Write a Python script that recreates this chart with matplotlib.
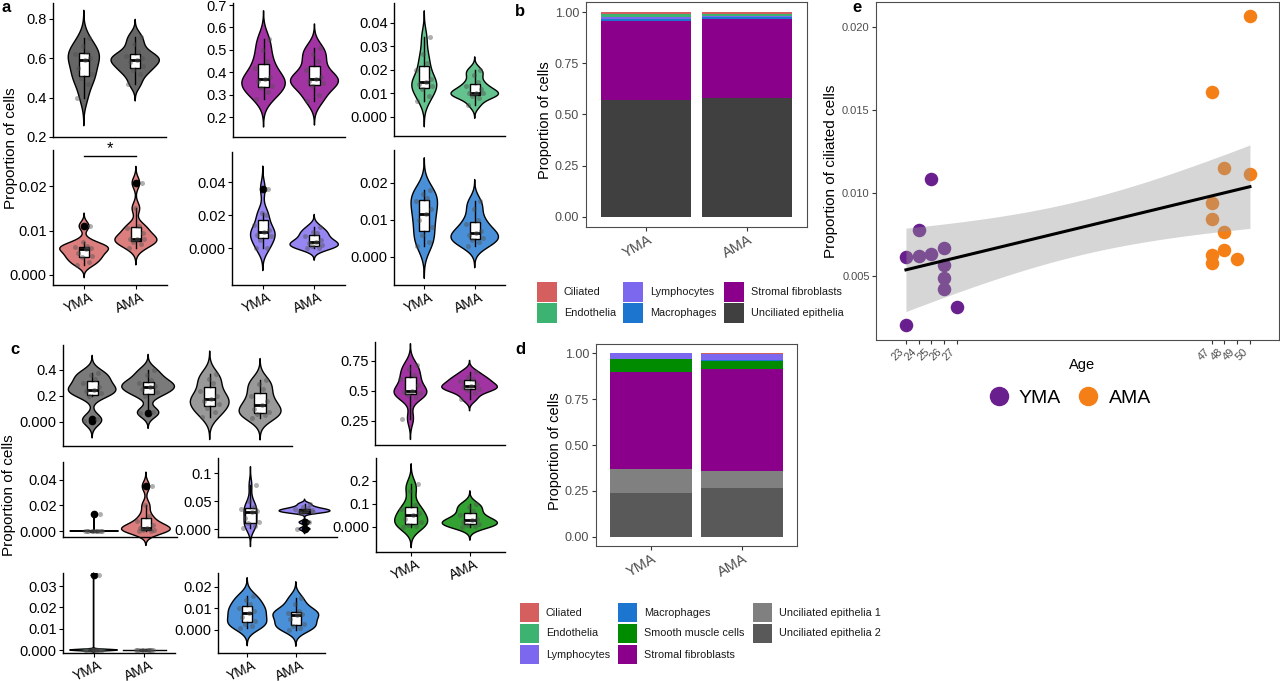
import matplotlib
matplotlib.use('Agg')
import matplotlib.pyplot as plt
from matplotlib.colors import to_rgba
from matplotlib.patches import Rectangle
from matplotlib.lines import Line2D
from matplotlib.transforms import ScaledTranslation
import numpy as np

plt.rcParams['font.family'] = ['Liberation Sans', 'DejaVu Sans']

W, H = 1280, 681

#=========== data ===========
groups = ['YMA', 'AMA']

# panel e
e_age_yma = [23, 23, 24, 24, 25, 25, 26, 26, 26, 26, 27]
e_cil_yma = [0.00613, 0.00204, 0.00777, 0.00621, 0.01083, 0.00633, 0.00667, 0.00566, 0.00486, 0.00420, 0.00315]
e_age_ama = [47, 47, 47, 47, 47, 48, 48, 48, 49, 50, 50]
e_cil_ama = [0.01608, 0.00942, 0.00844, 0.00627, 0.00576, 0.01149, 0.00763, 0.00657, 0.00603, 0.02064, 0.01113]
e_age_ticks = [23, 24, 25, 26, 27, 47, 48, 49, 50]

# panel a, proportion per sample
a_unc_yma = [0.40, 0.47, 0.50, 0.52, 0.55, 0.59, 0.60, 0.62, 0.63, 0.66, 0.70]
a_unc_ama = [0.47, 0.52, 0.54, 0.56, 0.58, 0.59, 0.60, 0.61, 0.63, 0.67, 0.71]
a_str_yma = [0.28, 0.31, 0.33, 0.34, 0.36, 0.37, 0.38, 0.42, 0.45, 0.50, 0.55]
a_str_ama = [0.27, 0.30, 0.34, 0.35, 0.36, 0.37, 0.38, 0.41, 0.45, 0.48, 0.51]
a_end_yma = [0.007, 0.009, 0.012, 0.013, 0.014, 0.015, 0.016, 0.020, 0.023, 0.027, 0.034]
a_end_ama = [0.005, 0.008, 0.009, 0.010, 0.010, 0.010, 0.012, 0.013, 0.015, 0.018, 0.020]
a_cil_yma = [0.0023, 0.003, 0.004, 0.0042, 0.005, 0.0058, 0.006, 0.0063, 0.0065, 0.0075, 0.011]
a_cil_ama = [0.006, 0.007, 0.0075, 0.008, 0.0081, 0.0082, 0.0095, 0.0105, 0.011, 0.015, 0.0207]
a_lym_yma = [0.000, 0.000, 0.005, 0.007, 0.008, 0.0095, 0.011, 0.014, 0.020, 0.021, 0.036]
a_lym_ama = [0.000, 0.000, 0.001, 0.002, 0.003, 0.0036, 0.005, 0.007, 0.009, 0.010, 0.013]
a_mac_yma = [0.003, 0.004, 0.006, 0.008, 0.010, 0.0115, 0.013, 0.015, 0.016, 0.017, 0.018]
a_mac_ama = [0.003, 0.004, 0.0045, 0.005, 0.006, 0.0064, 0.007, 0.009, 0.010, 0.013, 0.015]

# panel c, proportion per sample
c_ue2_yma = [0.01, 0.02, 0.20, 0.22, 0.24, 0.245, 0.27, 0.30, 0.33, 0.36, 0.38]
c_ue2_ama = [0.07, 0.075, 0.20, 0.23, 0.25, 0.27, 0.28, 0.30, 0.32, 0.36, 0.40]
c_ue1_yma = [0.04, 0.08, 0.11, 0.14, 0.16, 0.175, 0.20, 0.24, 0.30, 0.33, 0.37]
c_ue1_ama = [0.03, 0.05, 0.06, 0.08, 0.10, 0.13, 0.16, 0.20, 0.25, 0.29, 0.32]
c_str_yma = [0.27, 0.45, 0.47, 0.48, 0.49, 0.50, 0.55, 0.60, 0.63, 0.68, 0.72]
c_str_ama = [0.43, 0.48, 0.51, 0.52, 0.53, 0.54, 0.56, 0.58, 0.60, 0.62, 0.66]
c_cil_yma = [0.0, 0.0, 0.0, 0.0, 0.0, 0.0, 0.0, 0.0, 0.0, 0.0, 0.013]
c_cil_ama = [0.000, 0.000, 0.001, 0.001, 0.002, 0.002, 0.005, 0.008, 0.012, 0.020, 0.035]
c_lym_yma = [0.002, 0.005, 0.010, 0.012, 0.020, 0.030, 0.033, 0.036, 0.040, 0.050, 0.078]
c_lym_ama = [0.000, 0.012, 0.029, 0.030, 0.031, 0.033, 0.034, 0.035, 0.037, 0.040, 0.045]
c_smc_yma = [0.000, 0.005, 0.010, 0.020, 0.035, 0.050, 0.060, 0.080, 0.095, 0.155, 0.185]
c_smc_ama = [0.000, 0.005, 0.010, 0.015, 0.020, 0.029, 0.035, 0.050, 0.070, 0.085, 0.100]
c_end_yma = [0.0, 0.0, 0.0, 0.0, 0.0, 0.0, 0.0, 0.0, 0.0, 0.0, 0.035]
c_end_ama = [0.0, 0.0, 0.0, 0.0, 0.0, 0.0, 0.0, 0.0, 0.0, 0.0, 0.0]
c_mac_yma = [0.001, 0.002, 0.003, 0.004, 0.006, 0.0078, 0.009, 0.010, 0.012, 0.014, 0.016]
c_mac_ama = [0.000, 0.001, 0.002, 0.003, 0.005, 0.007, 0.0075, 0.008, 0.009, 0.012, 0.015]

# panel b, mean composition
b_types = ['Ciliated', 'Endothelia', 'Lymphocytes', 'Macrophages', 'Stromal fibroblasts', 'Unciliated epithelia']
b_yma = [0.008, 0.013, 0.011, 0.013, 0.385, 0.570]
b_ama = [0.008, 0.010, 0.006, 0.009, 0.384, 0.583]

# panel d, mean composition
d_types = ['Ciliated', 'Endothelia', 'Lymphocytes', 'Macrophages', 'Smooth muscle cells',
           'Stromal fibroblasts', 'Unciliated epithelia 1', 'Unciliated epithelia 2']
d_yma = [0.000, 0.001, 0.029, 0.003, 0.067, 0.530, 0.131, 0.239]
d_ama = [0.005, 0.002, 0.028, 0.005, 0.047, 0.552, 0.095, 0.266]

#=========== style ===========
cell_colors = {
    'Ciliated': '#D55E5E',
    'Endothelia': '#3CB371',
    'Lymphocytes': '#7B68EE',
    'Macrophages': '#1C75CF',
    'Smooth muscle cells': '#008B00',
    'Stromal fibroblasts': '#8B008B',
    'Unciliated epithelia': '#404040',
    'Unciliated epithelia 1': '#808080',
    'Unciliated epithelia 2': '#595959',
}
group_colors = {'YMA': '#6A1F8E', 'AMA': '#F57F17'}
JITTER = [-0.14, 0.09, -0.05, 0.16, -0.11, 0.03, 0.13, -0.17, 0.06, -0.02, 0.11]
TICK = 10.5

fig = plt.figure(figsize=(W / 100, H / 100), dpi=100)


def px_axes(l, t, r, b):
    return fig.add_axes([l / W, 1 - b / H, (r - l) / W, (b - t) / H])


def shift_xlabels(ax, dx):
    off = ScaledTranslation(dx / 100, 0, fig.dpi_scale_trans)
    for lab in ax.get_xticklabels():
        lab.set_transform(lab.get_transform() + off)


def violin_panel(rect, data, colors, ylim, yticks, ylabels, pos=(1, 2), xlim=(0.4, 2.6), xlabels=None):
    ax = px_axes(*rect)
    dens = []
    for vals in data:
        v = np.asarray(vals, float)
        if np.ptp(v) == 0:
            dens.append(None)
            continue
        q25, q75 = np.percentile(v, [25, 75])
        own = q75 == q25
        if own:
            bw = np.ptp(v) / 100
        else:
            bw = 0.9 * min(v.std(ddof=1), (q75 - q25) / 1.34) * len(v) ** -0.2
        g = np.linspace(v.min() - 3 * bw, v.max() + 3 * bw, 600)
        d = np.exp(-0.5 * ((g[:, None] - v[None, :]) / bw) ** 2).sum(1) / (len(v) * bw * np.sqrt(2 * np.pi))
        dens.append((g, d, own))
    shared = [t[1].max() for t in dens if t is not None and not t[2]]
    dmax = max(shared) if shared else 1
    for vals, p, c, t in zip(data, pos, colors, dens):
        if t is None:
            ax.plot([p - 0.42, p + 0.42], [vals[0], vals[0]], color='black', lw=1, zorder=1)
        else:
            g, d, own = t
            half = 0.47 * d / (d.max() if own else dmax)
            ax.fill(np.r_[p - half, (p + half)[::-1]], np.r_[g, g[::-1]], facecolor=to_rgba(c, 0.8),
                    edgecolor='black', lw=1, zorder=1, clip_on=False)
    ax.boxplot(data, positions=pos, widths=0.2, patch_artist=True, manage_ticks=False,
               boxprops=dict(facecolor='white', edgecolor='black', lw=1),
               medianprops=dict(color='black', lw=2),
               whiskerprops=dict(color='black', lw=1), capprops=dict(lw=0),
               flierprops=dict(marker='o', mfc='black', mec='black', ms=4.5),
               zorder=2)
    for vals, p in zip(data, pos):
        ax.scatter(np.array(JITTER[:len(vals)]) + p, vals, s=13, color='#505050', alpha=0.45,
                   lw=0, zorder=3, clip_on=False)
    ax.set_xlim(*xlim)
    ax.set_ylim(*ylim)
    for s in ['top', 'right']:
        ax.spines[s].set_visible(False)
    for s in ['left', 'bottom']:
        ax.spines[s].set_linewidth(1)
    ax.set_yticks(yticks, ylabels)
    ax.tick_params(labelsize=TICK, length=3, width=0.8, pad=1.5, colors='black')
    if xlabels:
        ax.set_xticks(pos, xlabels, rotation=25, ha='center', fontsize=10)
        ax.tick_params(axis='x', pad=0.5)
        shift_xlabels(ax, -6)
    else:
        ax.set_xticks([])
    ax.set_facecolor('none')
    return ax


#=========== panel a ===========
c = cell_colors
violin_panel((53, 3, 166, 137), [a_unc_yma, a_unc_ama], [c['Unciliated epithelia']] * 2,
             (0.2, 0.88), [0.2, 0.4, 0.6, 0.8], ['0.2', '0.4', '0.6', '0.8'])
violin_panel((233, 3, 345, 137), [a_str_yma, a_str_ama], [c['Stromal fibroblasts']] * 2,
             (0.111, 0.709), [0.2, 0.3, 0.4, 0.5, 0.6, 0.7], ['0.2', '0.3', '0.4', '0.5', '0.6', '0.7'])
violin_panel((394, 3, 505, 136), [a_end_yma, a_end_ama], [c['Endothelia']] * 2,
             (-0.0081, 0.0485), [0, 0.01, 0.02, 0.03, 0.04], ['0.000', '0.01', '0.02', '0.03', '0.04'])
ax_cil = violin_panel((53, 150, 167, 285), [a_cil_yma, a_cil_ama], [c['Ciliated']] * 2,
                      (-0.00225, 0.0281), [0, 0.01, 0.02], ['0.000', '0.01', '0.02'], xlabels=groups)
ax_cil.plot([1, 2], [0.0267, 0.0267], color='black', lw=1, clip_on=False)
ax_cil.text(1.5, 0.0284, '*', ha='center', va='center', fontsize=12, clip_on=False)
violin_panel((232, 152, 345, 285), [a_lym_yma, a_lym_ama], [c['Lymphocytes']] * 2,
             (-0.0224, 0.0582), [0, 0.02, 0.04], ['0.000', '0.02', '0.04'], xlabels=groups)
violin_panel((394, 150, 505, 285), [a_mac_yma, a_mac_ama], [c['Macrophages']] * 2,
             (-0.00757, 0.0289), [0, 0.01, 0.02], ['0.000', '0.01', '0.02'], xlabels=groups)
fig.text(11 / W, 1 - 148 / H, 'Proportion of cells', rotation=90, ha='center', va='center', fontsize=11)

#=========== panel c ===========
violin_panel((63, 345, 292, 446), [c_ue2_yma, c_ue2_ama, c_ue1_yma, c_ue1_ama],
             [c['Unciliated epithelia 2']] * 2 + [c['Unciliated epithelia 1']] * 2,
             (-0.185, 0.592), [0, 0.2, 0.4], ['0.000', '0.2', '0.4'],
             pos=(1, 2, 3.1, 4), xlim=(0.48, 4.57))
violin_panel((375, 342, 505, 445), [c_str_yma, c_str_ama], [c['Stromal fibroblasts']] * 2,
             (0.05, 0.908), [0.25, 0.5, 0.75], ['0.25', '0.5', '0.75'])
violin_panel((63, 462, 177, 537), [c_cil_yma, c_cil_ama], [c['Ciliated']] * 2,
             (-0.0047, 0.0541), [0, 0.02, 0.04], ['0.000', '0.02', '0.04'])
violin_panel((218, 458, 337, 537), [c_lym_yma, c_lym_ama], [c['Lymphocytes']] * 2,
             (-0.0143, 0.127), [0, 0.05, 0.1], ['0.000', '0.05', '0.1'])
violin_panel((376, 458, 505, 552), [c_smc_yma, c_smc_ama], [c['Smooth muscle cells']] * 2,
             (-0.1087, 0.3), [0, 0.1, 0.2], ['0.000', '0.1', '0.2'], xlabels=groups)
violin_panel((63, 573, 175, 653), [c_end_yma, c_end_ama], [c['Endothelia']] * 2,
             (-0.0014, 0.0361), [0, 0.01, 0.02, 0.03], ['0.000', '0.01', '0.02', '0.03'], xlabels=groups)
violin_panel((218, 573, 325, 653), [c_mac_yma, c_mac_ama], [c['Macrophages']] * 2,
             (-0.0107, 0.0265), [0, 0.01, 0.02], ['0.000', '0.01', '0.02'], xlabels=groups)
fig.text(9 / W, 1 - 495 / H, 'Proportion of cells', rotation=90, ha='center', va='center', fontsize=11)


#=========== panels b and d ===========
def stacked_panel(rect, types, yma, ama):
    ax = px_axes(*rect)
    bottoms = np.zeros(2)
    for t, vy, va in list(zip(types, yma, ama))[::-1]:
        vals = np.array([vy, va])
        ax.bar([1, 2], vals, bottom=bottoms, width=0.9, color=cell_colors[t], lw=0)
        bottoms += vals
    ax.set_xlim(0.4, 2.6)
    ax.set_ylim(-0.05, 1.05)
    ax.set_yticks([0, 0.25, 0.5, 0.75, 1.0], ['0.00', '0.25', '0.50', '0.75', '1.00'])
    ax.set_xticks([1, 2], groups, rotation=30, ha='center')
    ax.tick_params(labelsize=9, labelcolor='#4d4d4d', color='#333333', length=3, width=0.8, pad=2)
    ax.tick_params(axis='x', labelsize=10.5, pad=1)
    shift_xlabels(ax, -9)
    for s in ax.spines.values():
        s.set_color('#4d4d4d')
        s.set_linewidth(0.8)
    return ax


def key_legend(types, lefts, tops, size):
    nrows = len(tops)
    for i, t in enumerate(types):
        x0, y0 = lefts[i // nrows], tops[i % nrows]
        fig.add_artist(Rectangle((x0 / W, 1 - (y0 + size) / H), size / W, size / H,
                                 transform=fig.transFigure, facecolor=cell_colors[t], lw=0))
        fig.text((x0 + size + 7) / W, 1 - (y0 + size / 2) / H, t, fontsize=7.8, va='center', color='#1a1a1a')


stacked_panel((586, 2, 807, 227), b_types, b_yma, b_ama)
fig.text(545 / W, 1 - 120 / H, 'Proportion of cells', rotation=90, ha='center', va='center', fontsize=10.5)
key_legend(b_types, [537, 623, 724], [282, 303], 20)

stacked_panel((596, 344, 797, 546), d_types, d_yma, d_ama)
fig.text(555 / W, 1 - 451 / H, 'Proportion of cells', rotation=90, ha='center', va='center', fontsize=10.5)
key_legend(d_types, [520, 618, 753], [603, 624, 645], 19)

#=========== panel e ===========
axe = px_axes(876, 2, 1279, 340)
axe.scatter(e_age_yma, e_cil_yma, s=95, color=group_colors['YMA'], lw=0, zorder=2)
axe.scatter(e_age_ama, e_cil_ama, s=95, color=group_colors['AMA'], lw=0, zorder=2)

x = np.array(e_age_yma + e_age_ama, float)
y = np.array(e_cil_yma + e_cil_ama, float)
n = len(x)
sxx = ((x - x.mean()) ** 2).sum()
slope = ((x - x.mean()) * (y - y.mean())).sum() / sxx
icpt = y.mean() - slope * x.mean()
s_res = np.sqrt(((y - icpt - slope * x) ** 2).sum() / (n - 2))
T975 = 2.086  # t quantile, df = 20
xs = np.linspace(x.min(), x.max(), 80)
fit = icpt + slope * xs
se = s_res * np.sqrt(1 / n + (xs - x.mean()) ** 2 / sxx)
axe.fill_between(xs, fit - T975 * se, fit + T975 * se, color='#999999', alpha=0.4, lw=0, zorder=3)
axe.plot(xs, fit, color='black', lw=2.2, zorder=4)

axe.set_xlim(20.65, 52.28)
axe.set_ylim(0.00115, 0.0215)
axe.set_xticks(e_age_ticks, [str(a) for a in e_age_ticks], rotation=45, ha='right')
axe.set_yticks([0.005, 0.010, 0.015, 0.020], ['0.005', '0.010', '0.015', '0.020'])
axe.tick_params(labelsize=8, labelcolor='#4d4d4d', color='#333333', length=3, width=0.8, pad=1.5)
for s in axe.spines.values():
    s.set_color('#4d4d4d')
    s.set_linewidth(0.8)
fig.text(1082 / W, 1 - 365 / H, 'Age', ha='center', va='center', fontsize=10.5)
fig.text(831 / W, 1 - 171 / H, 'Proportion of ciliated cells', rotation=90, ha='center', va='center', fontsize=11)
fig.legend([Line2D([], [], ls='none', marker='o', ms=13, color=group_colors[g]) for g in groups], groups,
           ncol=2, loc='center', bbox_to_anchor=(1069 / W, 1 - 398 / H), frameon=False, fontsize=14,
           handletextpad=0.45, columnspacing=0.8, handlelength=1.2)

#=========== panel letters ===========
for lbl, px, py in [('a', 6, 7), ('b', 520, 11), ('c', 15, 349), ('d', 520, 349), ('e', 857, 7)]:
    fig.text(px / W, 1 - py / H, lbl, fontsize=12, fontweight='bold', ha='center', va='center')

fig.savefig('out.png', dpi=100)
